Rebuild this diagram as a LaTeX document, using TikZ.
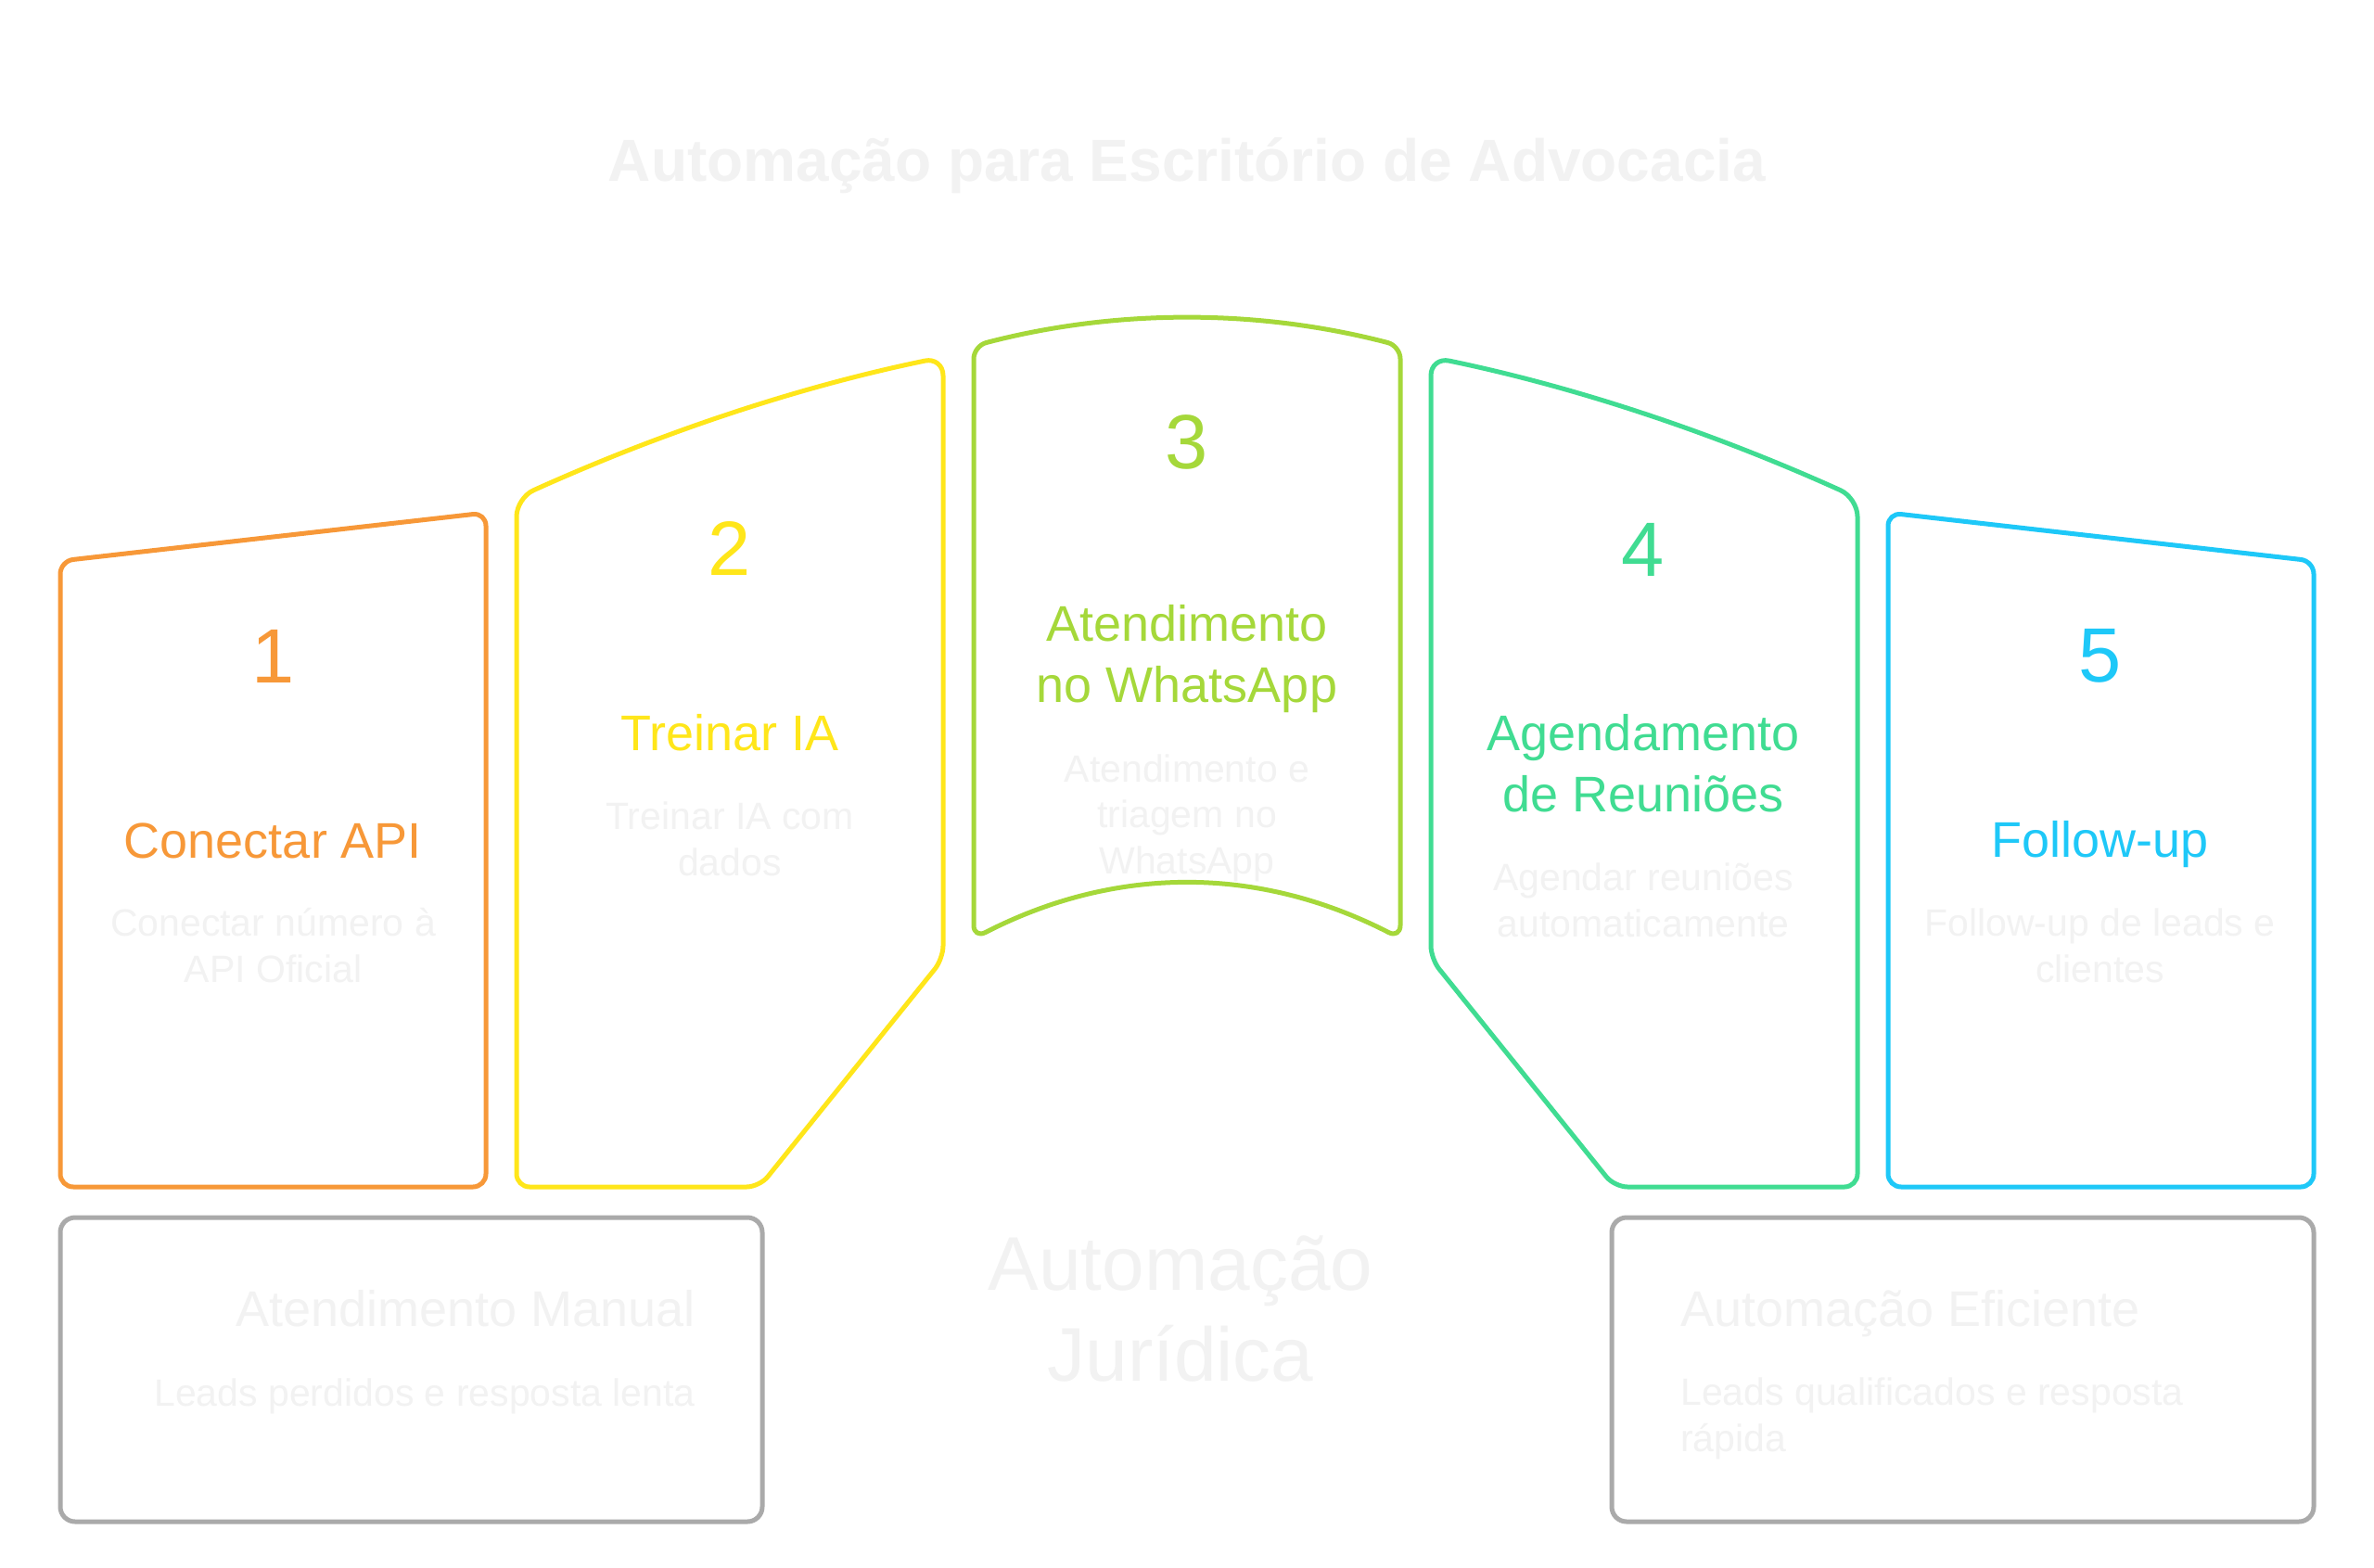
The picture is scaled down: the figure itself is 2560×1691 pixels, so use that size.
\documentclass[tikz,border=0pt]{standalone}
\usepackage{fontspec}
\setmainfont{Liberation Sans}
\definecolor{corange}{HTML}{F79838}
\definecolor{cyellow}{HTML}{FFE61A}
\definecolor{cgreen}{HTML}{A5D83A}
\definecolor{cteal}{HTML}{40DC92}
\definecolor{cblue}{HTML}{1EC8F8}
\definecolor{cgray}{HTML}{AAAAAA}
\definecolor{clight}{HTML}{F2F2F2}
\tikzset{
  card/.style={line width=5pt, line join=round, rounded corners=14pt},
  curvecard/.style={line width=5pt, line join=round},
  numtxt/.style={anchor=base, inner sep=0pt, font=\fontsize{83}{99}\selectfont},
  headtxt/.style={anchor=base, inner sep=0pt, align=center, font=\fontsize{54}{65.5}\selectfont},
  desctxt/.style={anchor=base, inner sep=0pt, align=center, text=clight, font=\fontsize{41}{49.5}\selectfont},
}
\begin{document}
\begin{tikzpicture}[x=1pt,y=-1pt]
\useasboundingbox (0,0) rectangle (2560,1691);
\fill[white] (0,0) rectangle (2560,1691);

% title
\node[anchor=base, inner sep=0pt, text=clight, font=\fontsize{64}{76}\selectfont\bfseries] (title) at (1280,195) {Automação para Escritório de Advocacia};

% card 1
\draw[card, corange] (65,1280) -- (65,605) -- (524,553) -- (524,1280) -- cycle;
% card 2
\draw[curvecard, cyellow] (557,557) .. controls (557,546) and (565.2,533.3) .. (575.2,528.8)
  .. controls (714,466) and (862,417) .. (997.4,389.1)
  .. controls (1008.2,386.8) and (1017,394) .. (1017,405)
  -- (1017,1020) .. controls (1017,1027.7) and (1013,1038.9) .. (1008.2,1044.9)
  -- (827.8,1269.1) .. controls (823,1275.1) and (812.7,1280) .. (805,1280)
  -- (571,1280) .. controls (563.3,1280) and (557,1273.7) .. (557,1266)
  -- cycle;
% card 3
\draw[curvecard, cgreen] (1050,998) -- (1050,387)
  .. controls (1050,379.3) and (1056.1,371.4) .. (1063.6,369.5)
  .. controls (1203.3,333) and (1356.7,333) .. (1496.4,369.5)
  .. controls (1503.9,371.4) and (1510,379.3) .. (1510,387)
  -- (1510,998)
  .. controls (1510,1005.7) and (1504.4,1009.1) .. (1497.5,1005.6)
  .. controls (1356.7,933.3) and (1203.3,933.3) .. (1062.5,1005.6)
  .. controls (1055.6,1009.1) and (1050,1005.7) .. (1050,998) -- cycle;
% card 4
\draw[curvecard, cteal] (2003,557) .. controls (2003,546) and (1994.8,533.3) .. (1984.8,528.8)
  .. controls (1846,466) and (1698,417) .. (1562.6,389.1)
  .. controls (1551.8,386.8) and (1543,394) .. (1543,405)
  -- (1543,1020) .. controls (1543,1027.7) and (1547,1038.9) .. (1551.8,1044.9)
  -- (1732.2,1269.1) .. controls (1737,1275.1) and (1747.3,1280) .. (1755,1280)
  -- (1989,1280) .. controls (1996.7,1280) and (2003,1273.7) .. (2003,1266)
  -- cycle;
% card 5
\draw[card, cblue] (2036,1280) -- (2036,553) -- (2495,605) -- (2495,1280) -- cycle;

% bottom boxes
\draw[line width=5pt, cgray, rounded corners=16pt] (65,1313) rectangle (822,1641);
\draw[line width=5pt, cgray, rounded corners=16pt] (1738,1313) rectangle (2495,1641);

% card texts (multi-line nodes: base = baseline of last line)
\node[numtxt, text=corange] (n1) at (294.5,736) {1};
\node[headtxt, text=corange] (h1) at (294.5,925) {Conectar API};
\node[desctxt] (d1) at (294.5,1059) {Conectar número à\\API Oficial};

\node[numtxt, text=cyellow] (n2) at (787,620) {2};
\node[headtxt, text=cyellow] (h2) at (787,809) {Treinar IA};
\node[desctxt] (d2) at (787,944) {Treinar IA com\\dados};

\node[numtxt, text=cgreen] (n3) at (1280,505) {3};
\node[headtxt, text=cgreen] (h3) at (1280,757) {Atendimento\\no WhatsApp};
\node[desctxt] (d3) at (1280,942) {Atendimento e\\triagem no\\WhatsApp};

\node[numtxt, text=cteal] (n4) at (1772,621) {4};
\node[headtxt, text=cteal] (h4) at (1772,875) {Agendamento\\de Reuniões};
\node[desctxt] (d4) at (1772,1010) {Agendar reuniões\\automaticamente};

\node[numtxt, text=cblue] (n5) at (2264.5,735) {5};
\node[headtxt, text=cblue] (h5) at (2264.5,924) {Follow-up};
\node[desctxt] (d5) at (2264.5,1059) {Follow-up de leads e\\clientes};

% bottom texts
\node[anchor=base east, inner sep=0pt, text=clight, font=\fontsize{54}{65}\selectfont] (bh1) at (750,1430) {Atendimento Manual};
\node[anchor=base east, inner sep=0pt, text=clight, font=\fontsize{41}{49.5}\selectfont] (bd1) at (750,1516) {Leads perdidos e resposta lenta};
\node[anchor=base west, inner sep=0pt, text=clight, font=\fontsize{54}{65}\selectfont] (bh2) at (1812,1430) {Automação Eficiente};
\node[anchor=base west, inner sep=0pt, align=left, text=clight, font=\fontsize{41}{49.5}\selectfont] (bd2) at (1812,1565) {Leads qualificados e resposta\\rápida};

% centre text
\node[anchor=base, inner sep=0pt, align=center, text=clight, font=\fontsize{82}{98}\selectfont] (cj) at (1273,1489) {Automação\\Jurídica};
\end{tikzpicture}
\end{document}
